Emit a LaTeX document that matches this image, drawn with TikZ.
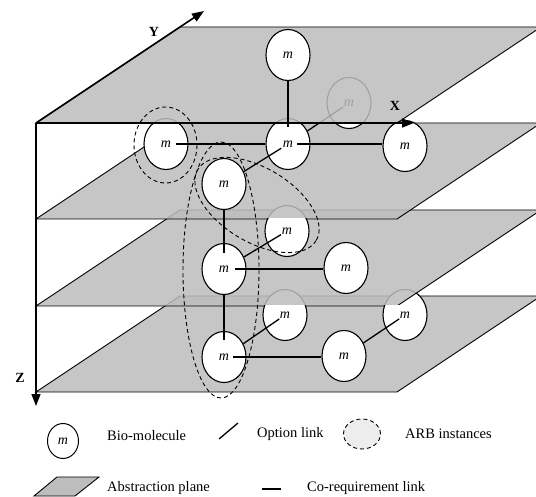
\documentclass[tikz,border=0pt]{standalone}
\usepackage{fontspec}
\setmainfont{Liberation Serif}
\usetikzlibrary{shapes.geometric,arrows.meta,calc}
\definecolor{planegray}{gray}{0.74}
\definecolor{arbfill}{gray}{0.93}
\begin{document}
\begin{tikzpicture}[x=1pt,y=-1pt,
  mol/.style={ellipse, draw, line width=1.1pt, fill=white, inner sep=0pt,
    minimum width=44pt, minimum height=51pt, font=\fontsize{14}{14}\selectfont\itshape},
  molpatch/.style={fill=white, draw=black, line width=1.1pt},
  coreq/.style={line width=1.3pt},
  optlink/.style={line width=1.3pt},
  planefill/.style={fill=planegray, fill opacity=0.85},
  planeedge/.style={line width=0.9pt, line join=miter},
  arb/.style={line width=0.9pt, dash pattern=on 4pt off 3pt},
  axisline/.style={line width=1.6pt},
  axlabel/.style={font=\fontsize{14}{14}\selectfont\bfseries, inner sep=0pt},
  legtext/.style={font=\fontsize{14.5}{17}\selectfont, anchor=west, inner sep=0pt}]
\useasboundingbox (0,0) rectangle (536,497);
\clip (0,0) rectangle (536,497);
\fill[white] (0,0) rectangle (536,497);

% ---------- plane 4 (bottom)
\fill[planefill] (36,392) -- (397,392) -- (541,296) -- (180,296) -- cycle;
\draw[planeedge] (36,392) -- (397,392) -- (541,296) -- (180,296) -- cycle;
\node[mol] (c10) at (285,315) {m};
\node[mol] (c11) at (405,315) {m};
\node[mol] (c12) at (224,357) {m};
\node[mol] (c13) at (344,356) {m};
\draw[coreq] ([xshift=9pt]c12.center) -- (c12.center -| c13.west);
\draw[optlink] (c12) -- ($(c10.center)!7pt!(c12.center)$);
\draw[optlink] (c13) -- ($(c11.center)!7pt!(c13.center)$);

% ---------- plane 3
\fill[planefill] (36,306) -- (397,306) -- (541,210) -- (180,210) -- cycle;
\draw[planeedge] (36,306) -- (397,306) -- (541,210) -- (180,210) -- cycle;
\begin{scope}
  \clip (0,305.2) rectangle (536,306.8);
  \filldraw[molpatch] (c10.center) ellipse [x radius=22, y radius=25.5];
  \filldraw[molpatch] (c11.center) ellipse [x radius=22, y radius=25.5];
\end{scope}
\node[mol] (c7) at (287,231) {m};
\node[mol] (c8) at (224,269) {m};
\node[mol] (c9) at (346,268) {m};
\draw[coreq] ([xshift=11pt]c8.center) -- (c8.center -| c9.west);
\draw[optlink] (c8) -- ($(c7.center)!7pt!(c8.center)$);
\draw[coreq] (c8.south) -- ([yshift=17pt]c12.center);

% ---------- plane 2
\fill[planefill] (36,219) -- (397,219) -- (541,123) -- (180,123) -- cycle;
\draw[planeedge] (36,219) -- (397,219) -- (541,123) -- (180,123) -- cycle;
\begin{scope}
  \clip (0,218.2) rectangle (536,219.8);
  \filldraw[molpatch] (c7.center) ellipse [x radius=22, y radius=25.5];
\end{scope}
\node[mol] (c2) at (349,103) {m};
\node[mol] (c3) at (166,144) {m};
\node[mol] (c4) at (288,144) {m};
\node[mol] (c5) at (405,146) {m};
\node[mol] (c6) at (224,184) {m};
\draw[coreq] ([xshift=10pt]c3.center) -- (c3.center -| c4.west);
\draw[coreq] ([xshift=9pt]c4.center) -- (c4.center -| c5.west);
\draw[optlink] (c4) -- ($(c2.center)!7pt!(c4.center)$);
\draw[optlink] (c6) -- ($(c4.center)!8pt!(c6.center)$);
\draw[coreq] (c6.south) -- ([yshift=16pt]c8.center);

% ---------- plane 1 (top)
\fill[planefill] (36,123) -- (397,123) -- (541,27) -- (180,27) -- cycle;
\draw[planeedge] (36,123) -- (397,123) -- (541,27) -- (180,27) -- cycle;
\node[mol] (c1) at (288,55) {m};
\draw[coreq] (c1.south) -- ([yshift=17pt]c4.center);

% ---------- ARB instances
\draw[arb] (165.5,145) ellipse [x radius=31.5, y radius=38];
\draw[arb, rotate around={-31:(257,205)}] (257,205) ellipse [x radius=69, y radius=37];
\draw[arb] (221,270) ellipse [x radius=38, y radius=128];

% ---------- axes
\coordinate (O) at (36,123);
\coordinate (xend) at (414,123);
\coordinate (yend) at (204,11);
\coordinate (zend) at (36,406);
\draw[axisline, -{Triangle[length=12pt,width=9pt]}] (O) -- (xend);
\draw[axisline, -{Triangle[length=12pt,width=9pt]}] (O) -- (yend);
\draw[axisline, -{Triangle[length=12pt,width=9pt]}] (O) -- (zend);
\node[axlabel] (xl) at (395,106) {X};
\node[axlabel] (yl) at (154,32) {Y};
\node[axlabel] (zl) at (20,378) {Z};

% ---------- legend
\node[mol, minimum width=31pt, minimum height=35pt, line width=1pt] (lmol) at (63,441) {m};
\node[legtext] (tmol) at (107,436) {Bio-molecule};
\coordinate (lo1) at (219,439);
\coordinate (lo2) at (238,423);
\draw[optlink] (lo1) -- (lo2);
\node[legtext] (topt) at (257,434) {Option link};
\node[ellipse, arb, draw, fill=arbfill, minimum width=37pt, minimum height=30pt] (larb) at (362,434) {};
\node[legtext] (tarb) at (405,434) {ARB instances};
\draw[planeedge, fill=planegray] (34,496) -- (75,496) -- (99,477) -- (57,477) -- cycle;
\node[legtext] (tabs) at (107,488) {Abstraction plane};
\coordinate (lc1) at (262,489);
\coordinate (lc2) at (281,489);
\draw[coreq] (lc1) -- (lc2);
\node[legtext] (tco) at (307,488) {Co-requirement link};
\end{tikzpicture}
\end{document}
